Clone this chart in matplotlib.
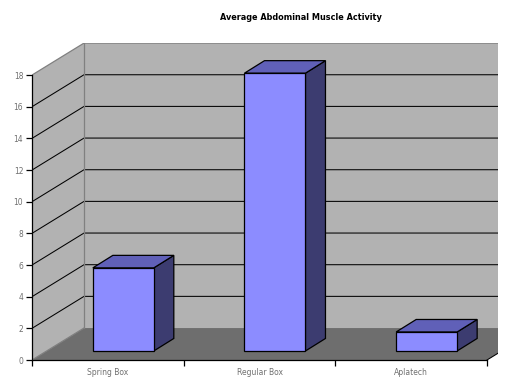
# plot.py
# Average abdominal muscle activity, old style 3D bar chart on a plain 2D axes
import matplotlib
matplotlib.use("Agg")
import matplotlib.pyplot as plt
from matplotlib.patches import Polygon

categories = ["Spring Box", "Regular Box", "Aplatech"]
values = [5.25, 17.55, 1.2]
y_ticks = [0, 2, 4, 6, 8, 10, 12, 14, 16, 18]

# depth of the box and of the bars, in data units
floor_dx, floor_dy = 0.343, 2.02
bar_dx, bar_dy = 0.132, 0.79
bar_off_x, bar_off_y = 0.102, 0.57
bar_w = 0.402

WALL = "#b2b2b2"
FLOOR = "#6e6e6e"
EDGE = "#808080"
FRONT = "#8c8cff"
TOP = "#6060b8"
SIDE = "#3c3c70"

W, H = 509, 378
fig = plt.figure(figsize=(W / 100, H / 100), dpi=100)
ax = fig.add_axes([32 / W, 1 - 360 / H, 466 / W, 317 / H])
ax.set_xlim(0, 466 / 151.67)
ax.set_ylim(0, 317 / 15.83)
x_max = 4.0
top = y_ticks[-1]


def poly(pts, fc, ec="none", lw=0.9, z=1):
    ax.add_patch(Polygon(pts, closed=True, facecolor=fc, edgecolor=ec, linewidth=lw, zorder=z))


# walls and floor
poly([(floor_dx, floor_dy), (x_max, floor_dy), (x_max, top + floor_dy), (floor_dx, top + floor_dy)], WALL)
poly([(0, 0), (floor_dx, floor_dy), (floor_dx, top + floor_dy), (0, top)], WALL)
poly([(0, 0), (3, 0), (3 + floor_dx, floor_dy), (floor_dx, floor_dy)], FLOOR)

# grid
for v in y_ticks[1:-1]:
    ax.plot([0, floor_dx, x_max], [v, v + floor_dy, v + floor_dy], color="black", lw=0.75, zorder=2)
ax.plot([floor_dx, floor_dx], [floor_dy, top + floor_dy], color=EDGE, lw=0.9, zorder=2)
ax.plot([0, floor_dx, x_max], [top, top + floor_dy, top + floor_dy], color=EDGE, lw=0.9, zorder=2)
ax.plot([0, floor_dx], [0, floor_dy], color=EDGE, lw=0.9, zorder=2)
ax.plot([3, 3 + floor_dx], [0, floor_dy], color="black", lw=0.75, zorder=2)

# bars
for i, v in enumerate(values):
    x0 = i + 0.5 + bar_off_x - bar_w / 2
    x1 = x0 + bar_w
    y0 = bar_off_y
    y1 = y0 + v
    poly([(x1, y0), (x1 + bar_dx, y0 + bar_dy), (x1 + bar_dx, y1 + bar_dy), (x1, y1)], SIDE, "black", z=3)
    poly([(x0, y1), (x1, y1), (x1 + bar_dx, y1 + bar_dy), (x0 + bar_dx, y1 + bar_dy)], TOP, "black", z=3)
    poly([(x0, y0), (x1, y0), (x1, y1), (x0, y1)], FRONT, "black", z=4)

# axes
for s in ["top", "right"]:
    ax.spines[s].set_visible(False)
ax.spines["left"].set_bounds(0, top)
ax.spines["bottom"].set_bounds(0, 3)
ax.spines["left"].set_linewidth(0.9)
ax.spines["bottom"].set_linewidth(0.9)
ax.set_yticks(y_ticks)
ax.set_yticklabels([str(v) for v in y_ticks], fontsize=5.5, color="#707070")
ax.set_xticks([0, 1, 2, 3])
ax.set_xticklabels([])
ax.set_xticks([0.5, 1.5, 2.5], minor=True)
ax.set_xticklabels(categories, minor=True, fontsize=5.5, color="#707070")
ax.tick_params(axis="both", which="major", length=4.3, width=0.9, pad=2)
ax.tick_params(axis="x", which="minor", length=0, pad=6)

fig.text(301 / W, 1 - 17 / H, "Average Abdominal Muscle Activity", ha="center", va="center",
         fontsize=5.9, fontweight="bold", color="black")

fig.savefig("out.png", dpi=100)
